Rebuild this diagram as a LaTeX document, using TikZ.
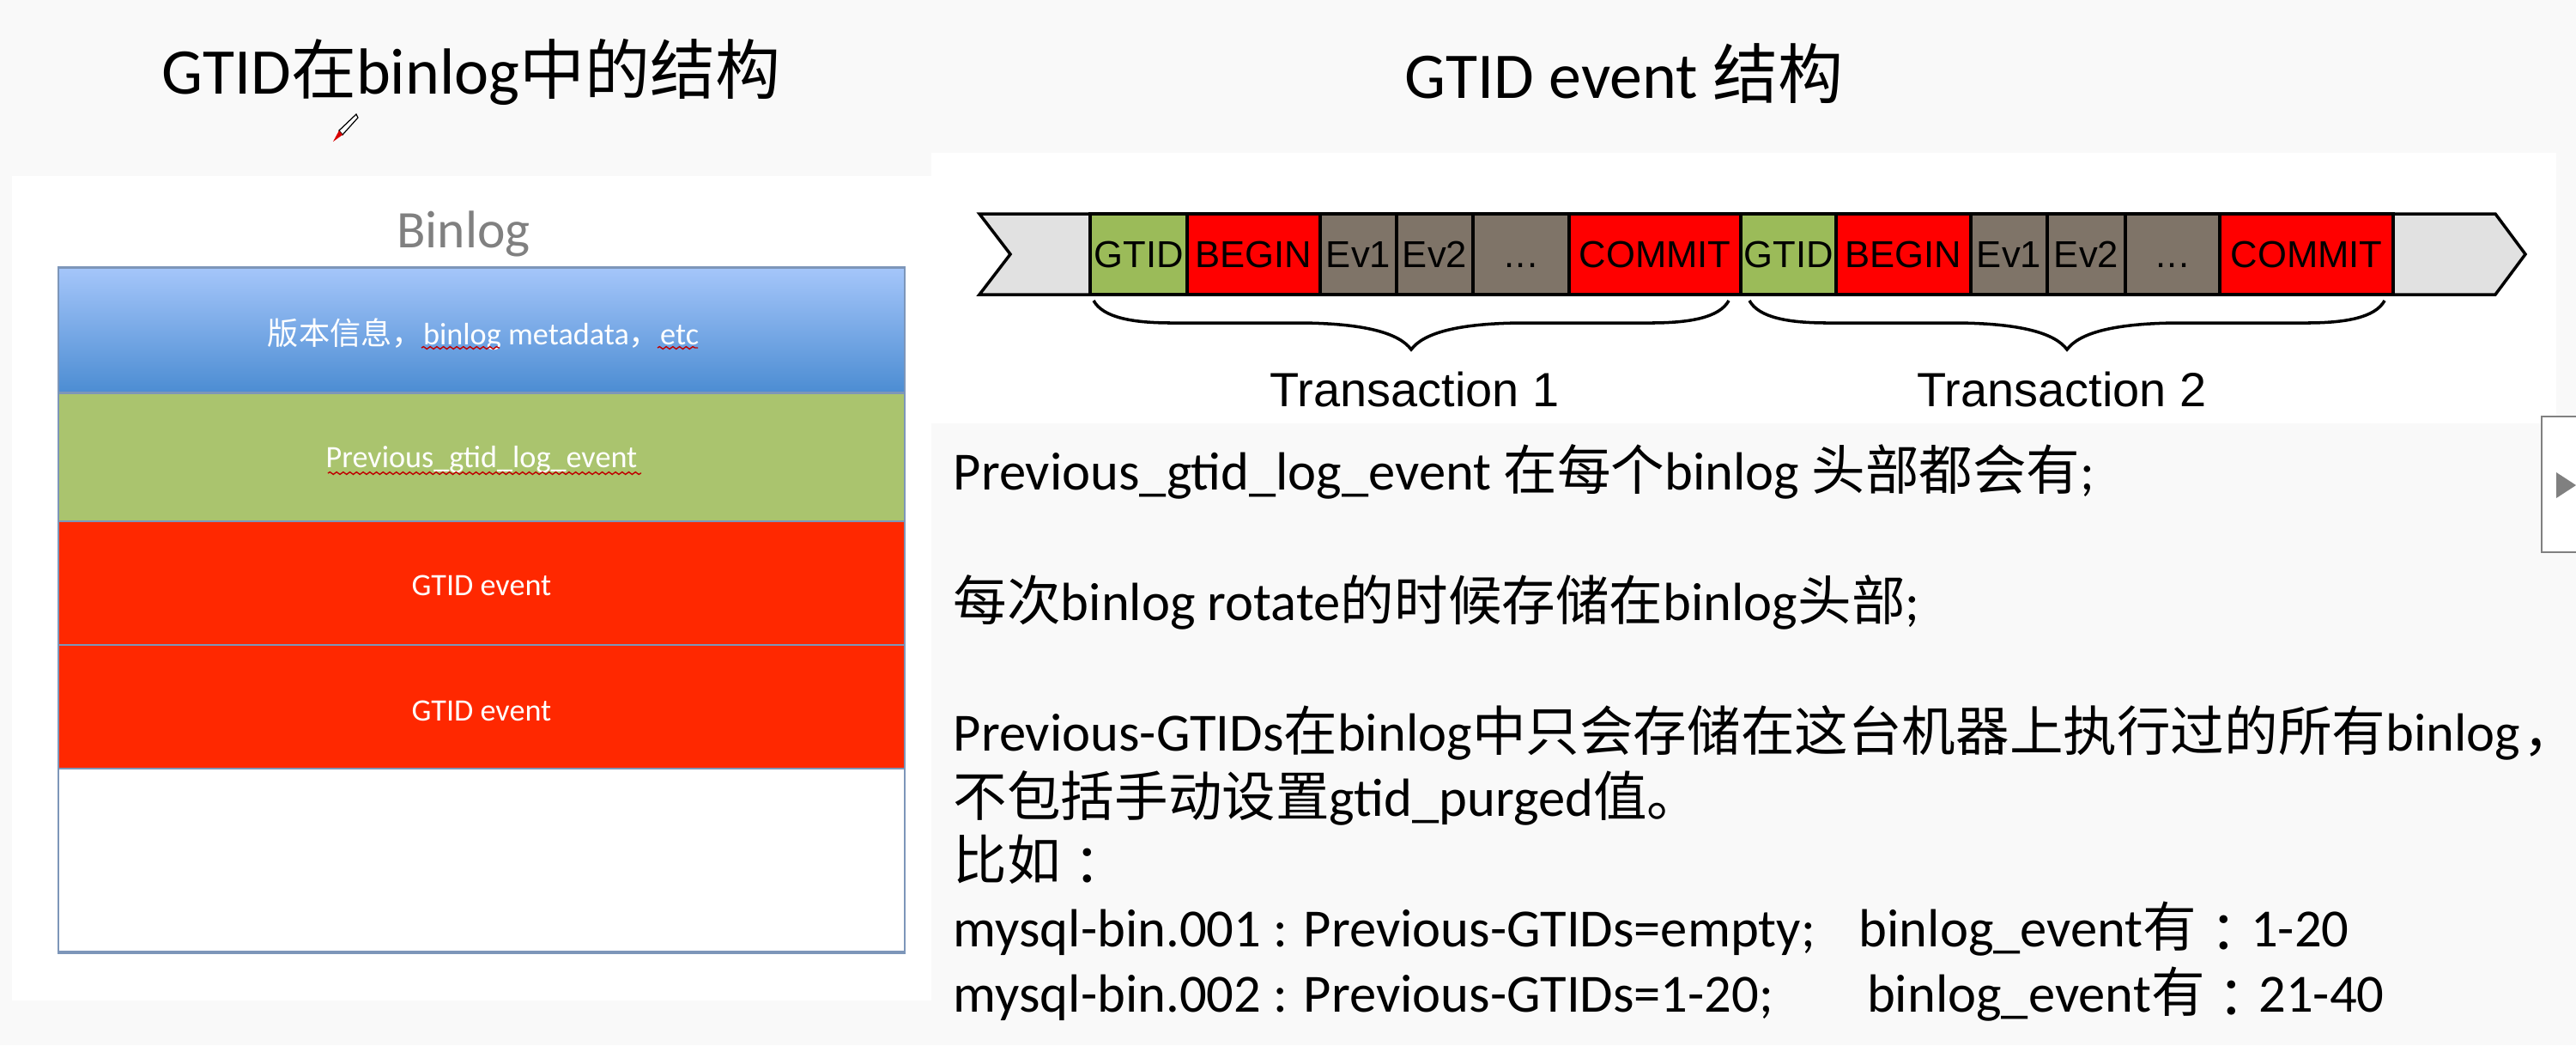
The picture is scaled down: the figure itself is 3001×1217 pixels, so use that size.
\documentclass[tikz,border=0pt]{standalone}
\usepackage{fontspec}
\setmainfont{Carlito}
\newfontfamily\cjk{Noto Sans CJK SC}
\newfontfamily\cjktc{Noto Sans CJK TC}
\newfontfamily\arial{Liberation Sans}
\usepackage{tikz}
\usetikzlibrary{arrows.meta,positioning,decorations.pathmorphing}
\usepackage{xcolor}
\definecolor{pagegray}{RGB}{249,249,249}
\definecolor{layerline}{RGB}{125,150,185}
\definecolor{metatop}{RGB}{165,198,250}
\definecolor{metabot}{RGB}{75,140,210}
\definecolor{prevgreen}{RGB}{170,196,110}
\definecolor{eventred}{RGB}{255,40,0}
\definecolor{seggreen}{RGB}{155,187,89}
\definecolor{segred}{RGB}{255,0,0}
\definecolor{seggray}{RGB}{127,116,104}
\definecolor{endgray}{RGB}{225,225,225}
\newcommand{\zhcolon}{\raisebox{-0.12em}{\cjktc ：}}

\begin{document}
\begin{tikzpicture}[
    x=0.01cm, y=-0.01cm,
    layer/.style={draw=layerline, line width=0.6pt, minimum width=9.86cm, inner sep=0},
    layertxt/.style={text=white, inner sep=0, font=\fontsize{10.3}{12}\selectfont},
    seg/.style={draw=black, line width=1pt, minimum height=0.94cm, inner sep=0, font=\arial\fontsize{12.4}{14}\selectfont},
    gtidseg/.style={seg, fill=seggreen},
    redseg/.style={seg, fill=segred},
    evseg/.style={seg, fill=seggray},
    endseg/.style={draw=black, line width=1pt, fill=endgray},
    txbrace/.style={line width=1pt},
    spell/.style={decorate, decoration={snake, amplitude=0.4pt, segment length=2.2pt}, red!75!black, line width=0.4pt},
    heading/.style={font=\fontsize{21.6}{25}\selectfont},
    transl/.style={font=\arial\fontsize{15.9}{18}\selectfont},
    body/.style={anchor=base west, inner sep=0, font=\fontsize{17.8}{21}\selectfont}
]
\useasboundingbox (0,0) rectangle (3001,1217);
\fill[pagegray] (0,0) rectangle (3001,1217);
\fill[white] (14,205) rectangle (1085,1165);
\fill[white] (1085,178) rectangle (2978,493);

% Titles
\node[heading] (title1) at (549,84) {GTID{\cjk 在}binlog{\cjk 中的结构}};
\node[heading] (title2) at (1892,86) {GTID event {\cjk 结构}};

% Pen cursor
\draw[line width=0.35pt, fill=white] (395,152) -- (415,133) -- (417,137) -- (399,157) -- cycle;
\fill[red!85!black] (388,165) -- (395,152) -- (399,157) -- cycle;

% Binlog layers
\node[text=gray, font=\fontsize{17.5}{22}\selectfont] (binlog) at (540,272) {Binlog};
\node[layer, minimum height=1.47cm, top color=metatop, bottom color=metabot] (meta) at (561,385) {};
\node[layer, minimum height=1.49cm, fill=prevgreen] (prev) at (561,532) {};
\node[layer, minimum height=1.44cm, fill=eventred] (evta) at (561,679) {};
\node[layer, minimum height=1.44cm, fill=eventred] (evtb) at (561,823) {};
\node[layer, minimum height=2.13cm, fill=white] (rest) at (561,1001.5) {};
\draw[layerline, line width=1.2pt] (rest.south west) -- (rest.south east);
\node[layertxt] (metatxt) at (563,389) {{\cjk 版本信息，}binlog metadata{\cjk ，}etc};
\node[layertxt] (prevtxt) at (561,535) {Previous\_gtid\_log\_event};
\node[layertxt] (evtatxt) at (561,682) {GTID event};
\node[layertxt] (evtbtxt) at (561,828) {GTID event};

% Spelling marks
\draw[spell] (491,405) -- (582,405);
\draw[spell] (766,405) -- (813,405);
\draw[spell] (382,551) -- (747,551);

% Event stream
\draw[endseg] (1270,249) -- (1141,249) -- (1177,296) -- (1141,343) -- (1270,343);
\draw[endseg] (2788,249) -- (2907,249) -- (2942,296) -- (2907,343) -- (2788,343);
\node[gtidseg, minimum width=1.13cm] (gtida) at (1326.5,296) {GTID};
\node[redseg, minimum width=1.55cm] (begina) at (1460.5,296) {BEGIN};
\node[evseg, minimum width=0.89cm] (eva) at (1582.5,296) {Ev1};
\node[evseg, minimum width=0.89cm] (evb) at (1671.5,296) {Ev2};
\node[evseg, minimum width=1.12cm] (dotsa) at (1772,296) {\vphantom{E}.\kern0.5pt.\kern0.5pt.};
\node[redseg, minimum width=2.00cm] (commita) at (1928,296) {COMMIT};
\node[gtidseg, minimum width=1.11cm] (gtidb) at (2083.5,296) {GTID};
\node[redseg, minimum width=1.57cm] (beginb) at (2217.5,296) {BEGIN};
\node[evseg, minimum width=0.89cm] (evc) at (2340.5,296) {Ev1};
\node[evseg, minimum width=0.91cm] (evd) at (2430.5,296) {Ev2};
\node[evseg, minimum width=1.10cm] (dotsb) at (2531,296) {\vphantom{E}.\kern0.5pt.\kern0.5pt.};
\node[redseg, minimum width=2.02cm] (commitb) at (2687,296) {COMMIT};

% Transactions
\draw[txbrace] (1274,350) .. controls (1285,370) and (1320,376) .. (1365,376) -- (1510,376) .. controls (1590,376) and (1630,388) .. (1644,407) .. controls (1658,388) and (1698,376) .. (1778,376) -- (1923,376) .. controls (1968,376) and (2003,370) .. (2014,350);
\draw[txbrace] (2038,350) .. controls (2049,370) and (2084,376) .. (2129,376) -- (2274,376) .. controls (2354,376) and (2394,388) .. (2408,407) .. controls (2422,388) and (2462,376) .. (2542,376) -- (2687,376) .. controls (2732,376) and (2767,370) .. (2778,350);
\node[transl] (tx1) at (1648,453) {Transaction 1};
\node[transl] (tx2) at (2402,453) {Transaction 2};

% Notes
\node[body] (noteA) at (1110,570) {Previous\_gtid\_log\_event {\cjk 在每个}binlog {\cjk 头部都会有};};
\node[body] (noteB) at (1110,722) {{\cjk 每次}binlog rotate{\cjk 的时候存储在}binlog{\cjk 头部};};
\node[body] (noteC) at (1110,874) {Previous-GTIDs{\cjk 在}binlog{\cjk 中只会存储在这台机器上执行过的所有}binlog{\cjk \hspace{0.05em}，}};
\node[body] (noteD) at (1110,950) {{\cjk 不包括手动设置}gtid\_purged{\cjk 值。}};
\node[body] (noteE) at (1110,1024) {{\cjk 比如}\zhcolon};
\node[body] (noteF) at (1110,1102) {mysql-bin.001 : Previous-GTIDs=empty;\hspace{14.5pt}binlog\_event{\cjk 有}\zhcolon 1-20};
\node[body] (noteG) at (1110,1178) {mysql-bin.002 : Previous-GTIDs=1-20;\hspace{31pt}binlog\_event{\cjk 有}\zhcolon 21-40};

% Side handle
\node[draw=gray, fill=white, line width=0.6pt, minimum width=0.5cm, minimum height=1.58cm, inner sep=0] (handle) at (2986,564) {};
\fill[gray] (2978,550) -- (3001,565) -- (2978,580) -- cycle;
\end{tikzpicture}
\end{document}
